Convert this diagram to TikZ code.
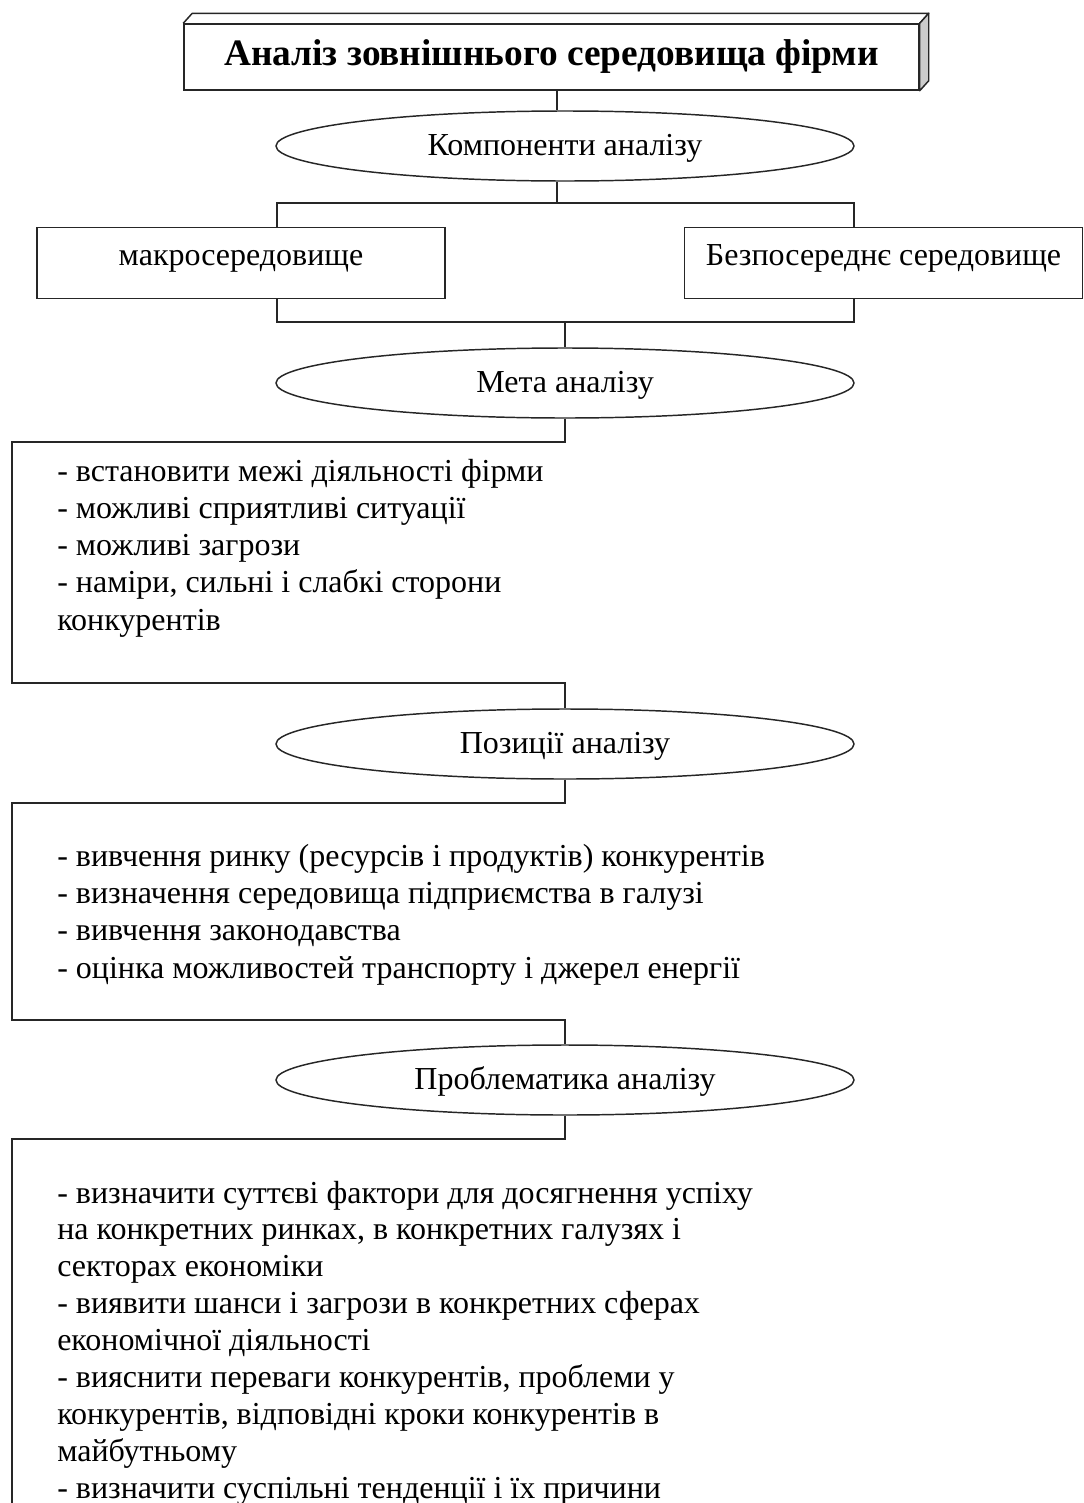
\documentclass[tikz,border=0pt]{standalone}
\usepackage{fontspec}
\setmainfont{Liberation Serif}
\usetikzlibrary{shapes.geometric}
\newlength\pxu
\setlength\pxu{0.75pt}
\begin{document}
\begin{tikzpicture}[x=0.75pt,y=-0.75pt,
  ln/.style={draw=black!85,line width=1.1pt},
  oval/.style={ln,ellipse,inner sep=0pt,minimum width=578\pxu,minimum height=70\pxu,text height=17pt,text depth=3pt,font=\fontsize{24}{28}\selectfont},
  boxx/.style={ln,rectangle,inner sep=0pt,minimum height=71\pxu,text height=10pt,text depth=7pt,font=\fontsize{24}{28}\selectfont},
  item/.style={anchor=base west,inner sep=0pt,font=\fontsize{24}{28}\selectfont}]
\useasboundingbox (0,0) rectangle (1084,1503);
% title 3D box
\node[ln,rectangle,inner sep=0pt,minimum width=735\pxu,minimum height=66\pxu,
  font=\bfseries\fontsize{28}{32}\selectfont] (title) at (551.5,57) {Аналіз зовнішнього середовища фірми};
\draw[ln,line join=round] (title.north west) -- ++(9,-10) -- ([shift={(9,-10)}]title.north east) -- (title.north east);
\filldraw[ln,fill=black!20,line join=round] (title.north east) -- ([shift={(9,-10)}]title.north east) -- ([shift={(9,-10)}]title.south east) -- (title.south east) -- cycle;
% ellipses
\node[oval] (e1) at (565,146) {Компоненти аналізу};
\node[oval] (e2) at (565,383) {Мета аналізу};
\node[oval] (e3) at (565,744) {Позиції аналізу};
\node[oval] (e4) at (565,1080) {Проблематика аналізу};
% boxes
\node[boxx,minimum width=408\pxu] (macro) at (241,263) {макросередовище};
\node[boxx,minimum width=398\pxu] (direct) at (883.5,263) {Безпосереднє середовище};
% junction coordinates
\coordinate (j0) at (557,203);
\coordinate (jl) at (277,203);
\coordinate (jr) at (854,203);
\coordinate (k0) at (565,322);
\coordinate (kl) at (277,322);
\coordinate (kr) at (854,322);
\draw[ln] (j0 |- title.south) -- (j0 |- e1.north);
\draw[ln] (j0 |- e1.south) -- (j0);
\draw[ln] (jl |- macro.north) -- (jl) -- (jr) -- (jr |- direct.north);
\draw[ln] (kl |- macro.south) -- (kl) -- (kr) -- (kr |- direct.south);
\draw[ln] (k0) -- (e2.north);
% brackets
\coordinate (a1) at (565,442);
\coordinate (a2) at (12,442);
\coordinate (a3) at (12,683);
\coordinate (a4) at (565,683);
\draw[ln] (e2.south) -- (a1) -- (a2) -- (a3) -- (a4) -- (e3.north);
\coordinate (b1) at (565,803);
\coordinate (b2) at (12,803);
\coordinate (b3) at (12,1020);
\coordinate (b4) at (565,1020);
\draw[ln] (e3.south) -- (b1) -- (b2) -- (b3) -- (b4) -- (e4.north);
\coordinate (c1) at (565,1139);
\coordinate (c2) at (12,1139);
\coordinate (c3) at (12,1503);
\draw[ln] (e4.south) -- (c1) -- (c2) -- (c3);
% list 1
\foreach \t [count=\i] in {{- встановити межі діяльності фірми},{- можливі сприятливі ситуації},{- можливі загрози},{- наміри, сильні і слабкі сторони},{конкурентів}}
  \node[item] (m\i) at (57,481+37.3*\i-37.3) {\t};
% list 2
\foreach \t [count=\i] in {{- вивчення ринку (ресурсів і продуктів) конкурентів},{- визначення середовища підприємства в галузі},{- вивчення законодавства},{- оцінка можливостей транспорту і джерел енергії}}
  \node[item] (p\i) at (57,866+37.4*\i-37.4) {\t};
% list 3
\foreach \t [count=\i] in {{- визначити суттєві фактори для досягнення успіху},{на конкретних ринках, в конкретних галузях і},{секторах економіки},{- виявити шанси і загрози в конкретних сферах},{економічної діяльності},{- вияснити переваги конкурентів, проблеми у},{конкурентів, відповідні кроки конкурентів в},{майбутньому},{- визначити суспільні тенденції і їх причини}}
  \node[item] (q\i) at (57,1203+36.95*\i-36.95) {\t};
\end{tikzpicture}
\end{document}
